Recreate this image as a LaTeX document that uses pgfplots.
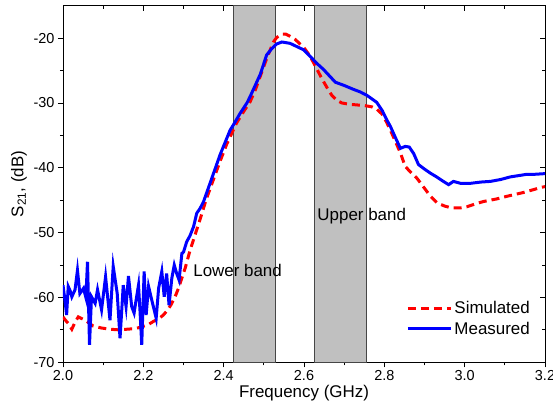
\documentclass[border=0pt]{standalone}
\usepackage{fontspec}
\setmainfont{Liberation Sans}
\usepackage{pgfplots}
\pgfplotsset{compat=1.18}
\definecolor{bandgray}{RGB}{192,192,192}
\definecolor{bandedge}{RGB}{70,70,70}

\newcommand{\tickfont}{\fontsize{14.5}{17}\selectfont}
\newcommand{\labfont}{\fontsize{17}{20}\selectfont}

\pgfplotsset{
  frame/.style={
    width=482bp, height=356.6bp, scale only axis,
    xmin=2.0, xmax=3.2, ymin=-70, ymax=-15,
    xtick={2.0,2.2,2.4,2.6,2.8,3.0,3.2},
    ytick={-70,-60,-50,-40,-30,-20},
    minor x tick num=1, minor y tick num=1,
    major tick length=5bp, minor tick length=3bp,
    axis line style={line width=1pt},
    every tick/.style={black, line width=0.8pt},
  }
}

\begin{document}
\begin{tikzpicture}
% mirror ticks on top and right, pointing in
\begin{axis}[frame, tick align=inside, xtick pos=right, ytick pos=right,
  xticklabels={}, yticklabels={}]
\end{axis}

\begin{axis}[frame, tick align=outside, xtick pos=left, ytick pos=left,
  /pgf/number format/assume math mode=true,
  xticklabel style={font=\tickfont, /pgf/number format/.cd, fixed, fixed zerofill, precision=1},
  yticklabel style={font=\tickfont},
  xlabel={Frequency (GHz)}, ylabel={S\textsubscript{21}, (dB)},
  label style={font=\labfont},
  xlabel style={yshift=3bp},
  legend style={at={(0.973,0.068)}, anchor=south east, draw=none, fill=none,
    font=\labfont, inner sep=0pt, row sep=3pt},
  legend cell align=left,
  legend image code/.code={\draw[#1] (0bp,0bp) -- (43bp,0bp);},
]
\coordinate (bl) at (rel axis cs:0,0);
\coordinate (tr) at (rel axis cs:1,1);

% pass bands
\addplot[forget plot, fill=bandgray, draw=bandedge, line width=0.8pt]
  coordinates {(2.425,-70) (2.425,-15) (2.530,-15) (2.530,-70)} -- cycle;
\addplot[forget plot, fill=bandgray, draw=bandedge, line width=0.8pt]
  coordinates {(2.625,-70) (2.625,-15) (2.755,-15) (2.755,-70)} -- cycle;

% simulated
\addplot[color=red, line width=3bp, dash pattern=on 8bp off 5bp] coordinates {
  (2.000,-63.0) (2.006,-63.5) (2.013,-64.0) (2.022,-64.9) (2.030,-63.8)
  (2.038,-63.0) (2.055,-63.5) (2.075,-64.4) (2.095,-64.7) (2.117,-64.9)
  (2.140,-65.0) (2.159,-64.9) (2.180,-64.8) (2.192,-64.6) (2.212,-64.2)
  (2.225,-63.7) (2.240,-63.2) (2.250,-62.7) (2.262,-61.8) (2.270,-61.0)
  (2.279,-59.9) (2.288,-58.5) (2.296,-57.0) (2.305,-55.3) (2.316,-52.8)
  (2.328,-50.5) (2.341,-48.0) (2.357,-44.8) (2.374,-41.9) (2.391,-39.0)
  (2.408,-36.3) (2.432,-33.1) (2.450,-31.3) (2.466,-29.8) (2.480,-27.8)
  (2.491,-25.9) (2.505,-23.5) (2.516,-21.8) (2.524,-20.6) (2.532,-19.9)
  (2.545,-19.4) (2.555,-19.4) (2.565,-19.7) (2.578,-20.2) (2.590,-20.9)
  (2.599,-21.4) (2.612,-22.5) (2.624,-23.8) (2.634,-25.0) (2.644,-26.2)
  (2.657,-27.6) (2.669,-28.8) (2.682,-29.6) (2.694,-30.0) (2.712,-30.2)
  (2.731,-30.3) (2.750,-30.4) (2.769,-30.6) (2.782,-31.0) (2.794,-31.7)
  (2.805,-32.9) (2.815,-34.2) (2.828,-36.0) (2.840,-37.7) (2.852,-39.8)
  (2.866,-40.7) (2.881,-41.6) (2.898,-43.0) (2.915,-44.4) (2.931,-45.4)
  (2.950,-45.9) (2.968,-46.2) (2.988,-46.2) (3.006,-46.0) (3.030,-45.5)
  (3.047,-45.2) (3.080,-44.8) (3.105,-44.4) (3.147,-43.8) (3.192,-43.0)
  (3.200,-42.9)
};
\addlegendentry{Simulated}

% measured
\addplot[color=blue, line width=3bp] coordinates {
  (2.000,-58.1) (2.005,-60.5) (2.009,-62.7) (2.013,-58.3) (2.018,-59.0)
  (2.022,-59.9) (2.030,-58.8) (2.036,-55.8) (2.042,-59.4) (2.051,-58.6)
  (2.057,-60.0) (2.061,-54.5) (2.066,-67.3) (2.071,-59.9) (2.080,-60.9)
  (2.086,-58.8) (2.096,-61.9) (2.106,-56.8) (2.117,-63.5) (2.125,-55.2)
  (2.135,-59.4) (2.142,-66.3) (2.150,-58.1) (2.157,-61.4) (2.163,-56.7)
  (2.171,-61.4) (2.177,-62.4) (2.182,-60.4) (2.188,-58.1) (2.192,-62.4)
  (2.196,-67.3) (2.202,-56.0) (2.207,-62.7) (2.213,-58.3) (2.221,-60.4)
  (2.232,-63.2) (2.238,-58.6) (2.246,-56.0) (2.252,-59.9) (2.258,-56.3)
  (2.264,-61.2) (2.271,-57.0) (2.277,-55.0) (2.283,-56.3) (2.289,-57.3)
  (2.296,-53.2) (2.300,-53.0) (2.308,-51.4) (2.316,-50.5) (2.325,-49.1)
  (2.333,-47.0) (2.341,-46.3) (2.350,-45.2) (2.366,-42.4) (2.391,-38.0)
  (2.416,-34.2) (2.424,-33.4) (2.441,-31.6) (2.458,-30.0) (2.466,-29.0)
  (2.491,-25.6) (2.507,-22.6) (2.520,-21.6) (2.532,-20.9) (2.545,-20.6)
  (2.565,-20.8) (2.582,-21.3) (2.599,-21.8) (2.615,-22.8) (2.632,-23.9)
  (2.648,-24.8) (2.657,-25.4) (2.678,-26.8) (2.700,-27.3) (2.723,-27.9)
  (2.740,-28.3) (2.756,-28.8) (2.781,-29.9) (2.795,-31.2) (2.806,-32.6)
  (2.815,-33.6) (2.828,-35.4) (2.840,-37.0) (2.852,-36.7) (2.862,-36.8)
  (2.873,-37.8) (2.885,-39.5) (2.900,-40.2) (2.914,-40.8) (2.930,-41.4)
  (2.947,-42.1) (2.960,-42.6) (2.972,-42.1) (2.990,-42.4) (3.014,-42.4)
  (3.040,-42.2) (3.064,-42.1) (3.090,-41.8) (3.114,-41.4) (3.135,-41.2)
  (3.155,-41.0) (3.175,-41.0) (3.200,-40.9)
};
\addlegendentry{Measured}

\node[anchor=west, inner sep=0pt, font=\labfont] at (axis cs:2.324,-55.9) {Lower band};
\node[anchor=west, inner sep=0pt, font=\labfont] at (axis cs:2.633,-47.4) {Upper band};
\end{axis}

\pgfresetboundingbox
\useasboundingbox ([shift={(-63bp,-50.7bp)}]bl) rectangle ([shift={(8bp,5.7bp)}]tr);
\end{tikzpicture}
\end{document}
